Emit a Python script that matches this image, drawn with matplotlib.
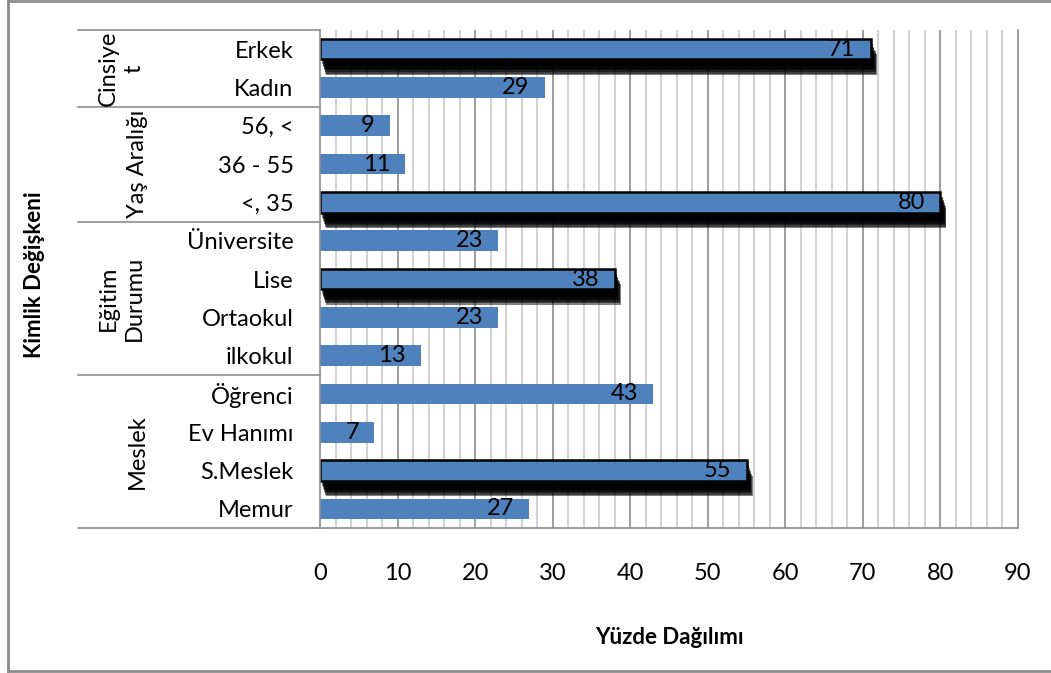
import numpy as np
import matplotlib.pyplot as plt
import matplotlib.patheffects as pe
from matplotlib.lines import Line2D

plt.rcParams['font.family'] = ['Lato', 'DejaVu Sans']

labels = ['Erkek', 'Kadın', '56, <', '36 - 55', '<, 35', 'Üniversite', 'Lise',
          'Ortaokul', 'ilkokul', 'Öğrenci', 'Ev Hanımı', 'S.Meslek', 'Memur']
values = [71, 29, 9, 11, 80, 23, 38, 23, 13, 43, 7, 55, 27]
highlight = [True, False, False, False, True, False, True,
             False, False, False, False, True, False]
groups = ['Cinsiye\nt', 'Yaş Aralığı', 'Eğitim\nDurumu', 'Meslek']
group_sizes = [2, 3, 4, 4]

W, H = 1051, 673
fig = plt.figure(figsize=(W / 100, H / 100), dpi=100)
left, right, top, bottom = 320, 1018, 30, 528
ax = fig.add_axes([left / W, 1 - bottom / H, (right - left) / W, (bottom - top) / H])

bar_color = '#4f81bd'
bar_h = 0.54
y = np.arange(len(labels))

# grid: light every 2, darker every 10
for gx in np.arange(2, 90, 2):
    major = gx % 10 == 0
    ax.axvline(gx, color='#8c8c8c' if major else '#c8c8c8', lw=1.2, zorder=0)

# stacked offset shadows fake a blurred drop shadow
shadow = [pe.SimplePatchShadow(offset=(1.5 + 0.4 * k, -(3.5 + 1.1 * k)),
                               shadow_rgbFace='black', alpha=0.5)
          for k in range(8)] + [pe.Normal()]

for i, (v, hl) in enumerate(zip(values, highlight)):
    bars = ax.barh(i, v, height=bar_h, color=bar_color,
                   edgecolor='black' if hl else bar_color,
                   linewidth=1.8 if hl else 0, zorder=2)
    if hl:
        bars[0].set_path_effects(shadow)
    ax.annotate(str(v), (v, i), xytext=(-11, 0), textcoords='offset points',
                ha='right', va='center', fontsize=17, color='black', zorder=3)

ax.set_xlim(0, 90)
ax.set_ylim(len(labels) - 0.5, -0.5)
ax.set_xticks(range(0, 91, 10))
ax.set_yticks(y)
ax.set_yticklabels(labels)
ax.tick_params(axis='y', length=0, pad=19, labelsize=17)
ax.tick_params(axis='x', length=0, pad=25, labelsize=17)
ax.spines['top'].set_visible(False)
for s in ['left', 'right', 'bottom']:
    ax.spines[s].set_color('#8c8c8c')
    ax.spines[s].set_linewidth(1.2)

ax.set_xlabel('Yüzde Dağılımı', fontsize=16, fontweight='bold', labelpad=31)

# group table on the left
x0 = (78 - left) / (right - left)
bounds = np.concatenate([[0], np.cumsum(group_sizes)]) - 0.5
trans = ax.get_yaxis_transform()
for b in bounds:
    ax.add_line(Line2D([x0, 0], [b, b], transform=trans, color='#8c8c8c',
                       lw=1.2, clip_on=False))
for g, lo, hi in zip(groups, bounds[:-1], bounds[1:]):
    gx = 121 if '\n' in g else 137
    ax.text((gx - left) / (right - left), (lo + hi) / 2, g, transform=trans,
            rotation=90, ha='center', va='center', fontsize=17,
            multialignment='center', linespacing=1.3)

fig.text(35 / W, 1 - 275 / H, 'Kimlik Değişkeni', rotation=90, ha='center',
         va='center', fontsize=16, fontweight='bold')

# outer chart frame
for xs, ys in [([8, 8], [1, 671]), ([8, W], [1, 1]), ([8, W], [671, 671])]:
    fig.add_artist(Line2D([v / W for v in xs], [1 - v / H for v in ys],
                          color='#8c8c8c', lw=2))

fig.savefig('out.png', dpi=100)
